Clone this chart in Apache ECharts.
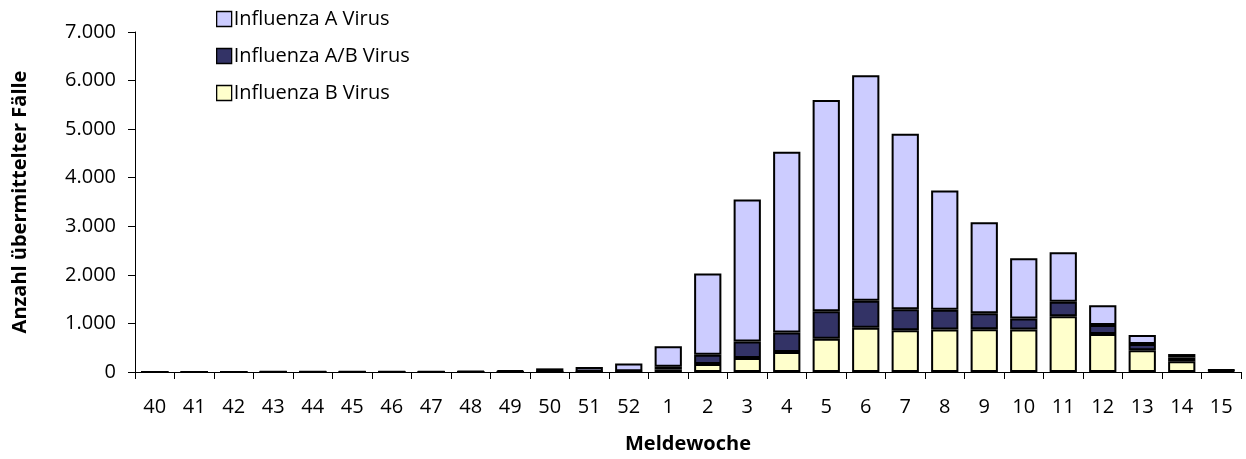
<!DOCTYPE html>
<html>
<head>
<meta charset="utf-8">
<script src="https://cdn.jsdelivr.net/npm/echarts@6/dist/echarts.min.js"></script>
<style>html,body{margin:0;padding:0;background:#fff}#c{width:1246px;height:459px}</style>
</head>
<body>
<div id="c"></div>
<script>
const categories = ['40','41','42','43','44','45','46','47','48','49','50','51','52','1','2','3','4','5','6','7','8','9','10','11','12','13','14','15'];
const influenzaA  = [3,3,3,4,4,5,6,8,15,30,70,95,160,420,1675,2920,3720,4350,4645,3615,2455,1875,1240,1020,405,185,70,15];
const influenzaAB = [0,0,0,0,1,1,1,1,2,3,3,5,10,60,190,340,405,565,555,430,405,330,225,295,190,125,80,10];
const influenzaB  = [1,1,1,1,1,1,1,1,1,2,2,3,5,50,165,290,410,685,910,860,875,880,875,1150,780,450,220,25];
const yTicks = [0,1000,2000,3000,4000,5000,6000,7000];
const names = ['Influenza A Virus','Influenza A/B Virus','Influenza B Virus'];

const font = '"Open Sans", sans-serif';
const chart = echarts.init(document.getElementById('c'), null, {renderer:'canvas'});
const barStyle = (c) => ({color:c, borderColor:'#000', borderWidth:2});
chart.setOption({
  animation:false,
  backgroundColor:'#fff',
  textStyle:{fontFamily:font},
  grid:{left:135, right:5, top:32, bottom:86, containLabel:false},
  legend:{
    orient:'vertical', left:211, top:4, itemWidth:15, itemHeight:15, itemGap:17,
    icon:'rect',
    data:names,
    textStyle:{fontSize:20, color:'#000', fontFamily:font, padding:[0,0,0,-3]},
    itemStyle:{borderColor:'#000', borderWidth:1.3}
  },
  xAxis:{
    type:'category', data:categories, boundaryGap:true,
    name:'Meldewoche', nameLocation:'middle', nameGap:62,
    nameTextStyle:{fontSize:20, fontWeight:'bold', color:'#000', fontFamily:font},
    axisLine:{lineStyle:{color:'#000', width:1}},
    axisTick:{show:true, alignWithLabel:false, length:7, lineStyle:{color:'#000'}},
    axisLabel:{fontSize:20, color:'#000', margin:25, interval:0, fontFamily:font}
  },
  yAxis:{
    type:'value', min:yTicks[0], max:yTicks[yTicks.length-1], interval:1000,
    name:'Anzahl übermittelter Fälle', nameLocation:'middle', nameGap:105, nameRotate:90,
    nameTextStyle:{fontSize:20, fontWeight:'bold', color:'#000', fontFamily:font},
    axisLine:{show:true, lineStyle:{color:'#000', width:1}},
    axisTick:{show:true, length:7, lineStyle:{color:'#000'}},
    splitLine:{show:false},
    axisLabel:{fontSize:20, color:'#000', margin:19, fontFamily:font,
      formatter:(v)=> v===0 ? '0' : String(v).replace(/\B(?=(\d{3})+(?!\d))/g,'.')}
  },
  series:[
    {name:names[2], type:'bar', stack:'s', data:influenzaB, barWidth:'69%', itemStyle:barStyle('#FFFFCC')},
    {name:names[1], type:'bar', stack:'s', data:influenzaAB, barWidth:'69%', itemStyle:barStyle('#333366')},
    {name:names[0], type:'bar', stack:'s', data:influenzaA, barWidth:'69%', itemStyle:barStyle('#CCCCFF')}
  ]
});
</script>
</body>
</html>
